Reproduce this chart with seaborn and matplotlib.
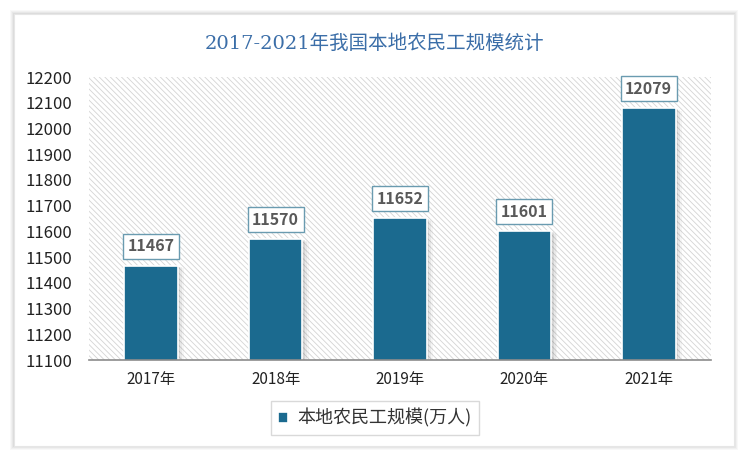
import matplotlib
matplotlib.use("Agg")
import matplotlib.pyplot as plt
import seaborn as sns
import pandas as pd
from matplotlib.patches import Rectangle

years = ["2017年", "2018年", "2019年", "2020年", "2021年"]
values = [11467, 11570, 11652, 11601, 12079]
series_name = "本地农民工规模(万人)"
title = "2017-2021年我国本地农民工规模统计"
yticks = list(range(11100, 12201, 100))

sns.set_theme(style="white")
plt.rcParams['font.family'] = ['Noto Sans CJK SC', 'DejaVu Sans']
plt.rcParams['hatch.color'] = '#d4d4d4'
plt.rcParams['hatch.linewidth'] = 0.6

df = pd.DataFrame({"year": years, "value": values})

fig = plt.figure(figsize=(7.5, 4.61), dpi=100)
fig.patch.set_facecolor('white')

W, H = 750, 461
for i, a in enumerate([0.05, 0.06, 0.08, 0.10]):
    d = 4 - i
    fig.patches.append(Rectangle(((14 - d) / W, 1 - (446 + d) / H), (720 + 2 * d) / W, (432 + 2 * d) / H,
                                 transform=fig.transFigure, facecolor='#808080', alpha=a,
                                 edgecolor='none', zorder=0))
fig.patches.append(Rectangle((14 / W, 1 - 446 / H), 720 / W, 432 / H, transform=fig.transFigure,
                             facecolor='white', edgecolor='#e6e6e6', linewidth=0.8, zorder=1))

ax = fig.add_axes([89 / W, 1 - 360 / H, (711 - 89) / W, (360 - 77) / H])
ax.set_zorder(2)
ax.patch.set_alpha(0)

sns.barplot(data=df, x="year", y="value", color="#1b6a8f", saturation=1, width=0.43,
            edgecolor="white", linewidth=1.2, ax=ax, zorder=3, label=series_name)

ax.set_ylim(11100, 12200)
ax.set_xlim(-0.5, len(years) - 0.5)
ax.set_yticks(yticks)
ax.set_yticklabels([str(t) for t in yticks], fontsize=12, color='#222222')
ax.tick_params(axis='x', labelsize=11, colors='#222222', pad=8, length=0)
ax.tick_params(axis='y', length=0, pad=12)
ax.set_xlabel("")
ax.set_ylabel("")

ax.add_patch(Rectangle((0, 0), 1, 1, transform=ax.transAxes, facecolor='white',
                       hatch='\\\\\\\\\\\\', edgecolor='#d4d4d4', linewidth=0, zorder=0))

for s in ['top', 'right', 'left']:
    ax.spines[s].set_visible(False)
ax.spines['bottom'].set_color('#8c8c8c')
ax.spines['bottom'].set_linewidth(1.2)
ax.spines['bottom'].set_zorder(4)

bars = [p for p in ax.patches if p.get_zorder() == 3]
for p in bars:
    x0 = p.get_x(); w = p.get_width(); h = p.get_height(); y0 = p.get_y()
    for k, a in enumerate([0.12, 0.08, 0.05]):
        off = 0.02 + k * 0.015
        ax.add_patch(Rectangle((x0 + off, y0), w, h - 4 - k * 3, facecolor='#555555',
                               alpha=a, edgecolor='none', zorder=2.5))

for i, v in enumerate(values):
    ax.text(i, v + 44, str(v), ha='center', va='bottom', fontsize=11.5, fontweight='bold',
            color='#595959', zorder=5,
            bbox=dict(boxstyle='square,pad=0.28', facecolor='white', edgecolor='#6a9bb0', linewidth=1.0))

fig.text(0.5, 1 - 44 / H, title, ha='center', va='center', fontsize=14, color='#3b6ea8',
         family=['DejaVu Serif', 'Noto Sans CJK SC'], zorder=5)

handles, labels = ax.get_legend_handles_labels()
if ax.get_legend() is not None:
    ax.get_legend().remove()
leg = fig.legend(handles, labels, loc='center', bbox_to_anchor=(0.5, 1 - 418 / H), frameon=True,
                 fontsize=13, handlelength=0.55, handleheight=0.55, borderpad=0.4,
                 handletextpad=0.5, fancybox=False, borderaxespad=0)
leg.get_frame().set_edgecolor('#d0d0d0')
leg.get_frame().set_linewidth(1.0)
leg.set_zorder(6)
for t in leg.get_texts():
    t.set_color('#333333')

fig.savefig("out.png", dpi=100)
